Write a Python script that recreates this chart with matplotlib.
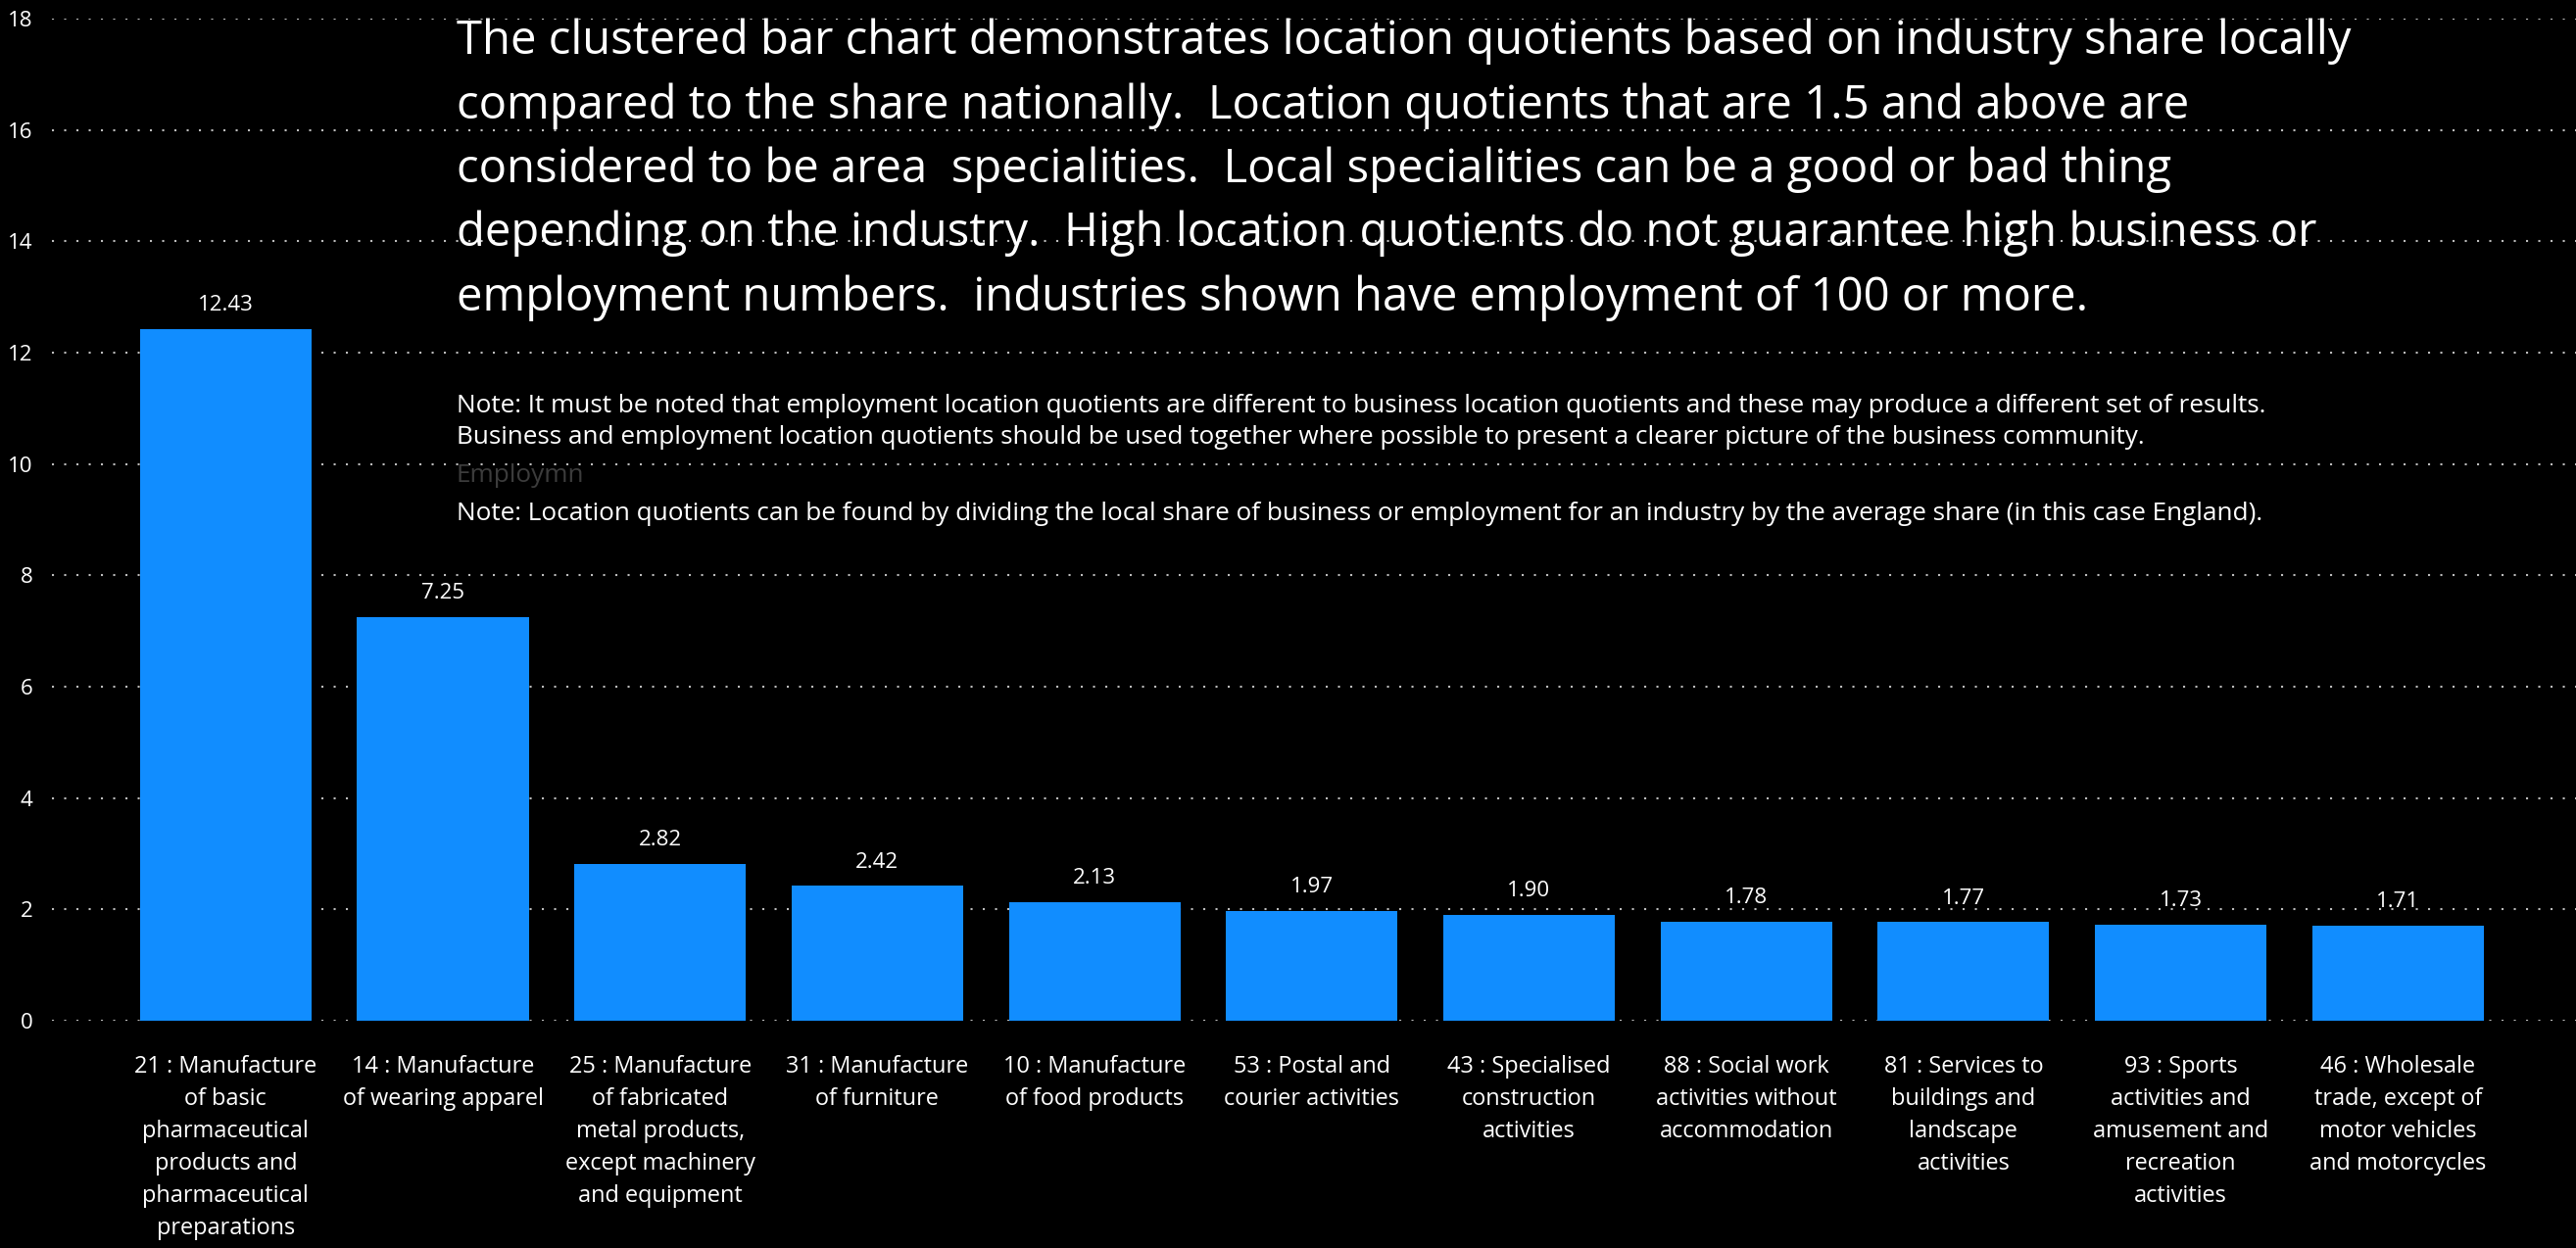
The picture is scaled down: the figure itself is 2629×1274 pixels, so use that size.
import matplotlib.pyplot as plt
import numpy as np

plt.rcParams['font.family'] = ['Open Sans', 'DejaVu Sans']

# Datos
categories = [
    "21 : Manufacture\nof basic\npharmaceutical\nproducts and\npharmaceutical\npreparations",
    "14 : Manufacture\nof wearing apparel",
    "25 : Manufacture\nof fabricated\nmetal products,\nexcept machinery\nand equipment",
    "31 : Manufacture\nof furniture",
    "10 : Manufacture\nof food products",
    "53 : Postal and\ncourier activities",
    "43 : Specialised\nconstruction\nactivities",
    "88 : Social work\nactivities without\naccommodation",
    "81 : Services to\nbuildings and\nlandscape\nactivities",
    "93 : Sports\nactivities and\namusement and\nrecreation\nactivities",
    "46 : Wholesale\ntrade, except of\nmotor vehicles\nand motorcycles",
]
values = [12.43, 7.25, 2.82, 2.42, 2.13, 1.97, 1.90, 1.78, 1.77, 1.73, 1.71]
y_ticks = [0, 2, 4, 6, 8, 10, 12, 14, 16, 18]

big_text = [
    "The clustered bar chart demonstrates location quotients based on industry share locally",
    "compared to the share nationally.  Location quotients that are 1.5 and above are",
    "considered to be area  specialities.  Local specialities can be a good or bad thing",
    "depending on the industry.  High location quotients do not guarantee high business or",
    "employment numbers.  industries shown have employment of 100 or more.",
]
note_1 = ("Note: It must be noted that employment location quotients are different to business "
          "location quotients and these may produce a different set of results.")
note_2 = ("Business and employment location quotients should be used together where possible "
          "to present a clearer picture of the business community.")
note_3 = ("Note: Location quotients can be found by dividing the local share of business or "
          "employment for an industry by the average share (in this case England).")

W, H = 2629, 1274
fig = plt.figure(figsize=(W / 100, H / 100), dpi=100, facecolor="black")
ax = fig.add_axes([53 / W, 1 - 1042 / H, 1 - 53 / W, (1042 - 19) / H])
ax.set_facecolor("black")

x = np.arange(len(values))
bars = ax.bar(x, values, width=0.79, color="#118DFF", zorder=3)

for xi, v in zip(x, values):
    ax.annotate(f"{v:.2f}", (xi, v), xytext=(0, 10), textcoords="offset points",
                ha="center", va="bottom", color="white", fontsize=16)

ax.set_xlim(-0.80, 10.82)
ax.set_ylim(0, 18)
ax.set_yticks(y_ticks)
ax.set_yticklabels([str(t) for t in y_ticks], color="white", fontsize=16)
ax.set_xticks(x)
ax.set_xticklabels(categories, color="white", fontsize=16.9, linespacing=1.5)
ax.tick_params(axis="y", length=0, pad=14)
ax.tick_params(axis="x", length=0, pad=25)
ax.grid(axis="y", color="#bdbdbd", linestyle=(0, (1, 5)), linewidth=1.5, zorder=0)
ax.set_axisbelow(True)
for s in ax.spines.values():
    s.set_visible(False)

# Texto grande
for i, line in enumerate(big_text):
    fig.text(466 / W, 1 - (55 + i * 65.5) / H, line, color="white", fontsize=34,
             va="baseline", ha="left")

fig.text(466 / W, 1 - 421 / H, note_1, color="white", fontsize=18.8, va="baseline")
fig.text(466 / W, 1 - 453 / H, note_2, color="white", fontsize=18.8, va="baseline")
fig.text(466 / W, 1 - 492 / H, "Employmn", color="#3c3c3c", fontsize=18.8, va="baseline")
fig.text(466 / W, 1 - 531 / H, note_3, color="white", fontsize=18.8, va="baseline")

fig.savefig("out.png", dpi=100, facecolor="black")
